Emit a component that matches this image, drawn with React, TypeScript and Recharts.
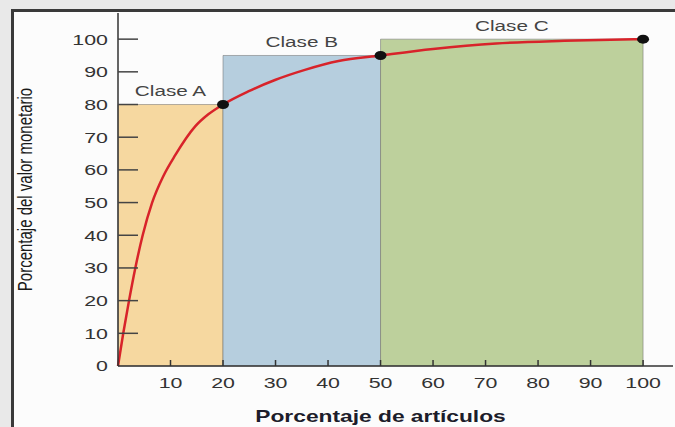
import {
  ComposedChart,
  Line,
  Scatter,
  XAxis,
  YAxis,
  ReferenceArea,
  Label,
} from "recharts"

// cumulative ABC curve: % of items vs % of money value
const itemPct = [0, 1, 2.1, 3.3, 4.7, 6.5, 8.6, 10.9, 14.7, 17.2, 20, 24.8, 29.9, 35.6, 42, 50, 60, 72, 85, 100]
const valuePct = [0, 10, 20, 30, 40, 50, 58, 64.5, 73.3, 77, 80, 84, 87.5, 90.6, 93.3, 95, 97, 98.7, 99.5, 100]

// class limits (x from/to, top of the class block)
const classNames = ["Clase A", "Clase B", "Clase C"]
const classFrom = [0, 20, 50]
const classTo = [20, 50, 100]
const classTop = [80, 95, 100]
const classColors = ["#f6d8a0", "#b6cede", "#bdd09c"]

const xTicks = [10, 20, 30, 40, 50, 60, 70, 80, 90, 100]
const yTicks = [0, 10, 20, 30, 40, 50, 60, 70, 80, 90, 100]

const curve = itemPct.map((x, i) => ({ x, y: valuePct[i] }))
const breakPoints = classTo.map((x, i) => ({ x, y: classTop[i] }))

// the printed figure is wider than tall, so text is stretched sideways
const S = 1.38
const FONT = "'Liberation Sans', Arial, sans-serif"

const YTick = (props: any) => {
  const { x, y, payload } = props
  return (
    <g>
      {payload.value !== 0 && (
        <line x1={x + 10} y1={y} x2={x + 30} y2={y} stroke="#444" strokeWidth={1.5} />
      )}
      <g transform={`translate(${x},${y}) scale(${S},1)`}>
        <text textAnchor="end" dominantBaseline="central" fontSize={15.5} fill="#333" fontFamily={FONT}>
          {payload.value}
        </text>
      </g>
    </g>
  )
}

const XTick = (props: any) => {
  const { x, y, payload } = props
  return (
    <g>
      <line x1={x} y1={y - 10} x2={x} y2={y - 16} stroke="#333" strokeWidth={1.5} />
      <g transform={`translate(${x},${y + 7}) scale(${S},1)`}>
        <text textAnchor="middle" dominantBaseline="central" fontSize={15.5} fill="#333" fontFamily={FONT}>
          {payload.value}
        </text>
      </g>
    </g>
  )
}

const ClassLabel = ({ viewBox, value }: any) => {
  const cx = viewBox.x + viewBox.width / 2
  return (
    <g transform={`translate(${cx},${viewBox.y - 13}) scale(${S},1)`}>
      <text textAnchor="middle" dominantBaseline="central" fontSize={15} fill="#444" fontFamily={FONT}>
        {value}
      </text>
    </g>
  )
}

const Dot = (props: any) => <ellipse cx={props.cx} cy={props.cy} rx={6} ry={4.5} fill="#111" />

export default function App() {
  return (
    <div style={{ position: "absolute", left: 0, top: 0, width: 675, height: 427, background: "#e9e9e9", overflow: "hidden" }}>
      <div
        style={{
          position: "absolute",
          left: 11,
          top: 9,
          width: 675,
          height: 427,
          background: "#fcfcfc",
          borderLeft: "3px solid #3a3a3a",
          borderTop: "3px solid #3a3a3a",
        }}
      />
      <div style={{ position: "absolute", left: 0, top: 0 }}>
        <ComposedChart width={675} height={427} data={curve} margin={{ top: 13, right: 2, bottom: 0, left: 0 }}>
          <XAxis
            type="number"
            dataKey="x"
            domain={[0, 105.7]}
            ticks={xTicks}
            interval={0}
            tickSize={0}
            tickMargin={10}
            tick={<XTick />}
            height={61}
            stroke="#333"
            strokeWidth={1.5}
          >
            <Label
              content={({ viewBox }: any) => (
                <g transform={`translate(${viewBox.x + viewBox.width / 2 - 15},${viewBox.y + 56}) scale(${S},1)`}>
                  <text textAnchor="middle" fontSize={16.5} fontWeight="bold" fill="#1d1d2b" fontFamily={FONT}>
                    Porcentaje de artículos
                  </text>
                </g>
              )}
            />
          </XAxis>
          <YAxis
            type="number"
            domain={[0, 108]}
            ticks={yTicks}
            interval={0}
            tickSize={0}
            tickMargin={10}
            tick={<YTick />}
            width={118}
            stroke="#333"
            strokeWidth={1.5}
          >
            <Label
              content={({ viewBox }: any) => (
                <g transform={`translate(${viewBox.x + 25},${viewBox.y + viewBox.height / 2}) scale(${S},1) rotate(-90)`}>
                  <text textAnchor="middle" dominantBaseline="central" fontSize={15} fill="#1a1a1a" fontFamily={FONT}>
                    Porcentaje del valor monetario
                  </text>
                </g>
              )}
            />
          </YAxis>
          {classNames.map((name, i) => (
            <ReferenceArea
              key={name}
              x1={classFrom[i]}
              x2={classTo[i]}
              y1={0}
              y2={classTop[i]}
              fill={classColors[i]}
              fillOpacity={1}
              stroke="#6a6a6a"
              strokeOpacity={0.5}
              strokeWidth={1}
              label={<ClassLabel value={name} />}
            />
          ))}
          <Line
            dataKey="y"
            type="monotone"
            stroke="#d8232a"
            strokeWidth={2.5}
            dot={false}
            activeDot={false}
            isAnimationActive={false}
          />
          <Scatter data={breakPoints} dataKey="y" shape={<Dot />} isAnimationActive={false} />
        </ComposedChart>
      </div>
    </div>
  )
}
